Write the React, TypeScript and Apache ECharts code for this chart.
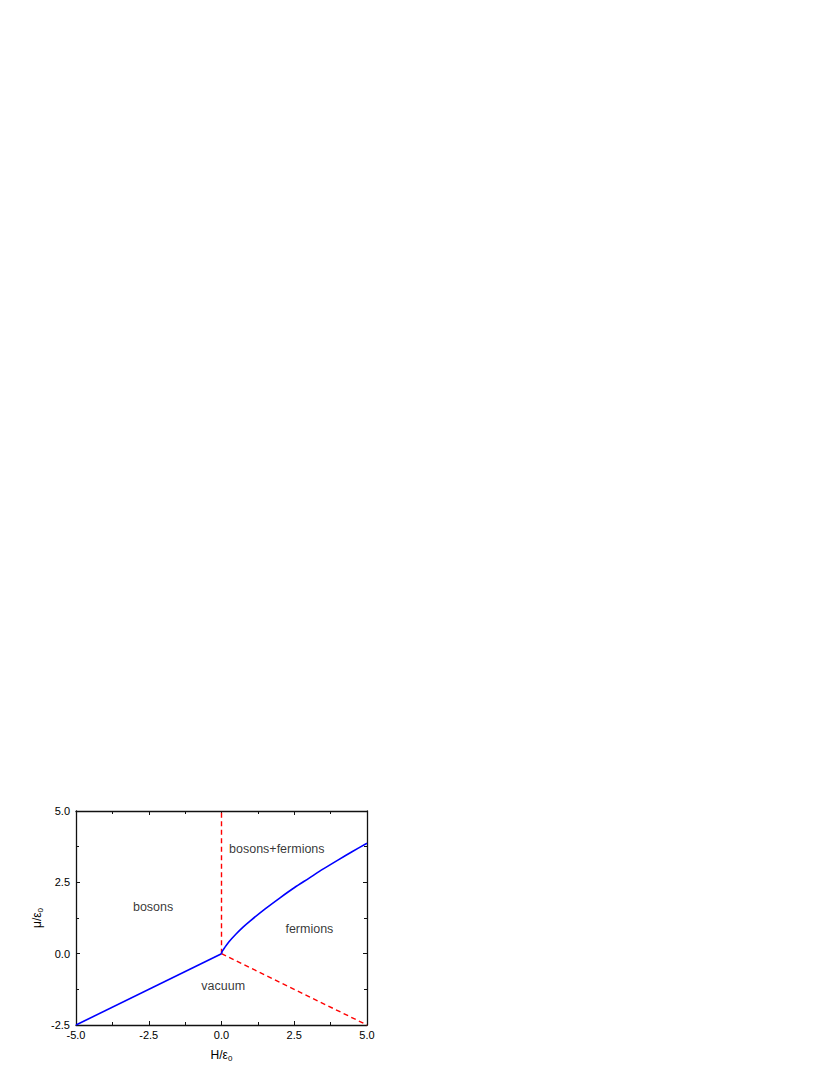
import React, { useEffect, useRef } from "react";
import * as echarts from "echarts";

const xTicks = [-5, -2.5, 0, 2.5, 5];
const yTicks = [-2.5, 0, 2.5, 5];

// boundary bosons / vacuum
const bosonVacuumH = [-5, 0];
const bosonVacuumMu = [-2.5, 0];

// boundary fermions / bosons+fermions (blue curve)
const fermionCurveH = [0, 0.02, 0.05, 0.1, 0.25, 0.5, 0.75, 1, 1.5, 2, 2.5, 3, 3.5, 4, 4.5, 5];
const fermionCurveMu = [0, 0.07, 0.12, 0.2, 0.41, 0.69, 0.94, 1.16, 1.57, 1.95, 2.31, 2.64, 2.97, 3.28, 3.58, 3.87];

// red dashed boundaries
const verticalH = [0, 0];
const verticalMu = [0, 5];
const vacuumFermionH = [0, 5];
const vacuumFermionMu = [0, -2.5];

// region labels
const regionNames = ["bosons", "bosons+fermions", "fermions", "vacuum"];
const regionH = [-2.35, 1.9, 3.02, 0.06];
const regionMu = [1.65, 3.67, 0.86, -1.15];

const zip = (a: number[], b: number[]) => a.map((v, i) => [v, b[i]]);

export default function App() {
  const ref = useRef<HTMLDivElement>(null);
  useEffect(() => {
    if (!ref.current) return;
    const chart = echarts.init(ref.current, null, { renderer: "svg" });
    const font = "Liberation Sans, Arial, sans-serif";
    const axisBase = {
      type: "value" as const,
      min: -5,
      max: 5,
      interval: 2.5,
      axisLine: { show: true, onZero: false, lineStyle: { color: "#111", width: 1.3 } },
      axisTick: { show: true, inside: true, length: 4, lineStyle: { color: "#111", width: 1 } },
      minorTick: { show: true, splitNumber: 2, length: 3, lineStyle: { color: "#111", width: 1 } },
      splitLine: { show: false },
    };
    const yBase = { ...axisBase, min: -2.5, max: 5 };
    chart.setOption({
      animation: false,
      backgroundColor: "#ffffff",
      grid: { left: 76, top: 811, width: 291, height: 214, containLabel: false },
      xAxis: [
        {
          ...axisBase,
          position: "bottom",
          axisLabel: {
            show: true,
            color: "#000",
            fontFamily: font,
            fontSize: 11,
            margin: 4,
            formatter: (v: number) => v.toFixed(1),
            customValues: xTicks,
          },
          name: "{a|H/ε}{s|0}",
          nameLocation: "middle",
          nameGap: 23,
          nameTextStyle: {
            rich: {
              a: { fontFamily: font, fontSize: 12, color: "#000" },
              s: { fontFamily: font, fontSize: 8, color: "#000", verticalAlign: "bottom", padding: [6, 0, 0, 0] },
            },
          },
        },
        {
          ...axisBase,
          position: "top",
          axisLabel: { show: false },
        },
      ],
      yAxis: [
        {
          ...yBase,
          position: "left",
          axisLabel: {
            show: true,
            color: "#000",
            fontFamily: font,
            fontSize: 11,
            margin: 6,
            formatter: (v: number) => v.toFixed(1),
            customValues: yTicks,
          },
          name: "{a|μ/ε}{s|0}",
          nameLocation: "middle",
          nameGap: 32,
          nameRotate: 90,
          nameTextStyle: {
            rich: {
              a: { fontFamily: font, fontSize: 12, color: "#000" },
              s: { fontFamily: font, fontSize: 8, color: "#000", padding: [6, 0, 0, 0] },
            },
          },
        },
        {
          ...yBase,
          position: "right",
          axisLabel: { show: false },
        },
      ],
      series: [
        {
          type: "line",
          data: zip(bosonVacuumH, bosonVacuumMu),
          showSymbol: false,
          lineStyle: { color: "#0000ff", width: 1.6 },
          z: 3,
        },
        {
          type: "line",
          data: zip(fermionCurveH, fermionCurveMu),
          showSymbol: false,
          smooth: 0.3,
          lineStyle: { color: "#0000ff", width: 1.6 },
          z: 3,
        },
        {
          type: "line",
          data: zip(verticalH, verticalMu),
          showSymbol: false,
          lineStyle: { color: "#ff0000", width: 1.4, type: [5, 3.5] },
          z: 2,
        },
        {
          type: "line",
          data: zip(vacuumFermionH, vacuumFermionMu),
          showSymbol: false,
          lineStyle: { color: "#ff0000", width: 1.4, type: [5, 3.5] },
          z: 2,
        },
        {
          type: "scatter",
          symbolSize: 0,
          data: regionNames.map((n, i) => ({ value: [regionH[i], regionMu[i]], name: n })),
          label: {
            show: true,
            position: "inside",
            formatter: (p: any) => p.name,
            fontFamily: font,
            fontSize: 12.5,
            color: "#000",
            textBorderWidth: 0,
          },
          z: 4,
        },
      ],
    });
    return () => chart.dispose();
  }, []);
  return (
    <div
      ref={ref}
      style={{ position: "fixed", left: 0, top: 0, width: 830, height: 1075, background: "#fff" }}
    />
  );
}
